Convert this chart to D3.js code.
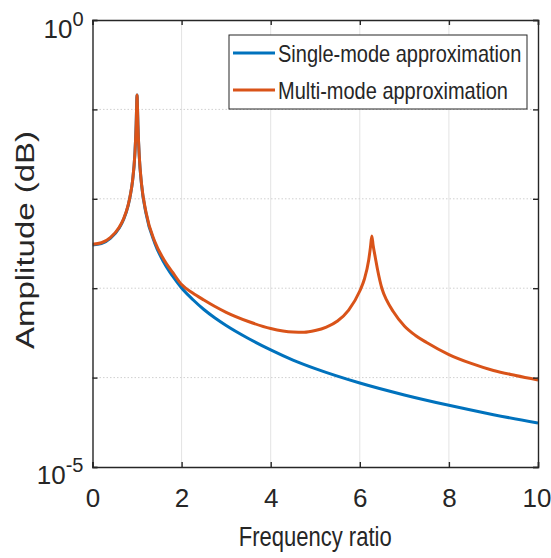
<!DOCTYPE html>
<html>
<head>
<meta charset="utf-8">
<script src="https://cdn.jsdelivr.net/npm/d3@7"></script>
<style>
  body { margin: 0; background: #fff; }
  text { font-family: "Liberation Sans", Arial, sans-serif; fill: #262626; }
</style>
</head>
<body>
<div id="chart"></div>
<script>
// frequency ratio / amplitude
let xSingle = [0, 0.2, 0.4, 0.6, 0.7, 0.8, 0.85, 0.9, 0.95, 0.98, 0.99, 1.0, 1.01, 1.02, 1.05, 1.1, 1.2, 1.4, 1.6, 1.8, 2.0, 2.25, 2.5, 2.75, 3, 3.5, 4, 4.5, 5, 6, 7, 8, 9, 10];
let ampSingle = [3.04e-3, 3.15e-3, 3.6e-3, 4.7e-3, 5.9e-3, 8.4e-3, 0.011, 0.016, 0.031, 0.068, 0.106, 0.145, 0.104, 0.067, 0.0296, 0.0145, 6.9e-3, 3.17e-3, 1.95e-3, 1.36e-3, 1.005e-3, 7.48e-4, 5.78e-4, 4.64e-4, 3.83e-4, 2.74e-4, 2.04e-4, 1.57e-4, 1.26e-4, 8.7e-5, 6.4e-5, 4.9e-5, 3.85e-5, 3.1e-5];

let xMulti = [0, 0.2, 0.4, 0.6, 0.7, 0.8, 0.85, 0.9, 0.95, 0.98, 0.99, 1.0, 1.01, 1.02, 1.05, 1.1, 1.2, 1.4, 1.6, 1.8, 2.0, 2.25, 2.5, 2.75, 3, 3.5, 4, 4.5, 4.75, 5, 5.25, 5.5, 5.75, 6.0, 6.1, 6.2, 6.24, 6.27, 6.3, 6.35, 6.4, 6.5, 6.6, 6.75, 7, 7.25, 7.5, 8, 8.5, 9, 9.5, 10];
let ampMulti = [3.1e-3, 3.22e-3, 3.68e-3, 4.8e-3, 6.0e-3, 8.5e-3, 0.0111, 0.0161, 0.0312, 0.068, 0.106, 0.145, 0.104, 0.067, 0.030, 0.0148, 7.1e-3, 3.3e-3, 2.1e-3, 1.5e-3, 1.10e-3, 8.84e-4, 7.38e-4, 6.24e-4, 5.37e-4, 4.24e-4, 3.54e-4, 3.23e-4, 3.21e-4, 3.36e-4, 3.68e-4, 4.30e-4, 5.70e-4, 9.3e-4, 1.25e-3, 2.07e-3, 2.9e-3, 3.84e-3, 3.0e-3, 2.18e-3, 1.60e-3, 9.8e-4, 7.38e-4, 5.49e-4, 3.78e-4, 2.96e-4, 2.47e-4, 1.81e-4, 1.44e-4, 1.20e-4, 1.055e-4, 9.4e-5];

let xTicks = [0, 2, 4, 6, 8, 10];
let yTicks = [1e-5, 1e-4, 1e-3, 1e-2, 1e-1, 1];
let seriesNames = ["Single-mode approximation", "Multi-mode approximation"];
let seriesColors = ["#0072BD", "#D95319"];

let width = 551, height = 558;
let margin = {top: 20, right: 13, bottom: 91, left: 92.5};

let svg = d3.select("#chart").append("svg")
  .attr("width", width)
  .attr("height", height);

let xScale = d3.scaleLinear()
  .domain([0, 10])
  .range([margin.left, width - margin.right]);
let yScale = d3.scaleLog()
  .domain([1e-5, 1])
  .range([height - margin.bottom, margin.top]);

// grid
svg.append("g").selectAll("line").data(xTicks.slice(1, -1))
  .enter().append("line")
  .attr("x1", d => xScale(d)).attr("x2", d => xScale(d))
  .attr("y1", margin.top).attr("y2", height - margin.bottom)
  .attr("stroke", "#e3e3e3").attr("stroke-width", 1);
svg.append("g").selectAll("line").data(yTicks.slice(1, -1))
  .enter().append("line")
  .attr("x1", margin.left).attr("x2", width - margin.right)
  .attr("y1", d => yScale(d)).attr("y2", d => yScale(d))
  .attr("stroke", "#d0d0d0").attr("stroke-width", 1)
  .attr("stroke-dasharray", "1.5,2");

// curves
svg.append("clipPath").attr("id", "clip").append("rect")
  .attr("x", margin.left).attr("y", margin.top)
  .attr("width", width - margin.right - margin.left)
  .attr("height", height - margin.bottom - margin.top);

let line = d3.line()
  .x(d => xScale(d[0]))
  .y(d => yScale(d[1]))
  .curve(d3.curveMonotoneX);

let series = [d3.zip(xSingle, ampSingle), d3.zip(xMulti, ampMulti)];
svg.append("g").attr("clip-path", "url(#clip)")
  .selectAll("path").data(series)
  .enter().append("path")
  .attr("d", line)
  .attr("fill", "none")
  .attr("stroke", (d, i) => seriesColors[i])
  .attr("stroke-width", 3)
  .attr("stroke-linejoin", "round");

// axes
let xAxis = d3.axisBottom(xScale).tickValues(xTicks).tickSize(-5).tickPadding(22);
let xTop = d3.axisTop(xScale).tickValues(xTicks).tickSize(-5).tickFormat("");
let yAxis = d3.axisLeft(yScale).tickValues(yTicks).tickSize(-5).tickPadding(9).tickFormat("");
let yRight = d3.axisRight(yScale).tickValues(yTicks).tickSize(-5).tickFormat("");

let gx = svg.append("g").attr("transform", "translate(0," + (height - margin.bottom) + ")").call(xAxis);
svg.append("g").attr("transform", "translate(0," + margin.top + ")").call(xTop);
let gy = svg.append("g").attr("transform", "translate(" + margin.left + ",0)").call(yAxis);
svg.append("g").attr("transform", "translate(" + (width - margin.right) + ",0)").call(yRight);

svg.selectAll(".domain").attr("stroke", "#262626").attr("stroke-width", 1.4);
svg.selectAll(".tick line").attr("stroke", "#262626").attr("stroke-width", 1.4);
svg.selectAll(".tick text").attr("fill", "#262626");

gx.selectAll(".tick text")
  .attr("font-family", "Liberation Sans, Arial, sans-serif")
  .attr("font-size", 26);
// last label sits against the right edge, as in the original
gx.selectAll(".tick text").filter(d => d === 10).attr("text-anchor", "end").attr("x", 13);

// 10^0 and 10^-5 labels
gy.selectAll(".tick").each(function(d) {
  if (d !== 1 && d !== 1e-5) return;
  let t = d3.select(this).select("text")
    .attr("font-family", "Liberation Sans, Arial, sans-serif")
    .attr("font-size", 26)
    .attr("dy", d === 1 ? 17 : 16);
  t.append("tspan").text("10");
  t.append("tspan").attr("font-size", 20).attr("dy", -12)
    .text(d === 1 ? "0" : "-5");
});

// axis titles
svg.append("text")
  .attr("transform", "translate(" + ((margin.left + width - margin.right) / 2) + ",546) scale(1,1.25)")
  .attr("text-anchor", "middle")
  .attr("font-size", 22)
  .text("Frequency ratio");

svg.append("text")
  .attr("transform", "translate(34,240) rotate(-90) scale(1.32,1)")
  .attr("text-anchor", "middle")
  .attr("font-size", 25)
  .text("Amplitude (dB)");

// legend
let legend = svg.append("g");
legend.append("rect")
  .attr("x", 229).attr("y", 35)
  .attr("width", 298).attr("height", 74)
  .attr("fill", "#fff")
  .attr("stroke", "#262626").attr("stroke-width", 1);

let items = legend.selectAll(".item").data(seriesNames)
  .enter().append("g")
  .attr("transform", (d, i) => "translate(233," + (53 + i * 37) + ")");
items.append("line")
  .attr("x1", 0).attr("x2", 42)
  .attr("stroke", (d, i) => seriesColors[i])
  .attr("stroke-width", 3);
items.append("text")
  .attr("transform", "translate(45,9) scale(1,1.17)")
  .attr("font-size", 20)
  .text(d => d);
</script>
</body>
</html>
